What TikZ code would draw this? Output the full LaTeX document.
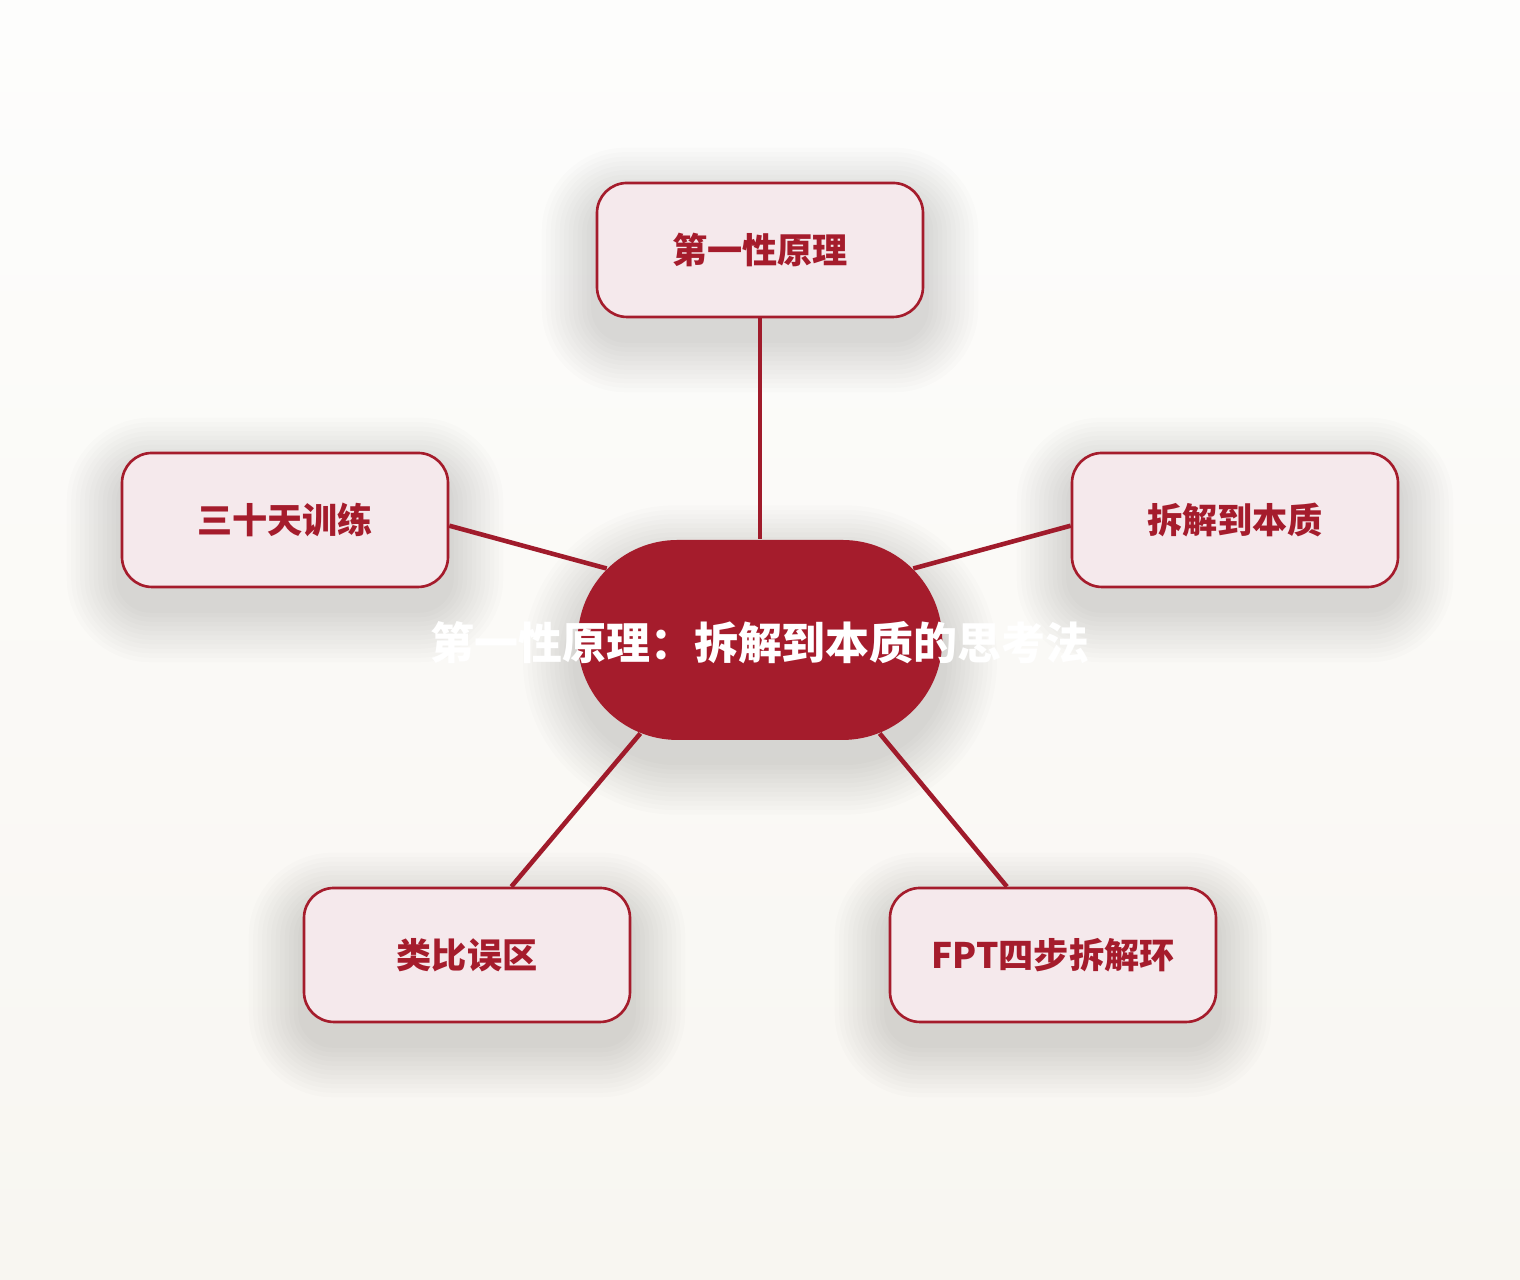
\documentclass[tikz,border=0pt]{standalone}
\usepackage{fontspec}
\newfontfamily\cjk{Noto Sans CJK SC}
\usetikzlibrary{positioning, shapes.misc, backgrounds, calc}

\definecolor{deepred}{HTML}{A51C2C}
\definecolor{linkred}{HTML}{A01B2B}
\definecolor{palepink}{HTML}{F5E9EC}
\definecolor{bgtop}{HTML}{FDFDFC}
\definecolor{bgbottom}{HTML}{F8F6F1}

\tikzset{
  topic/.style={draw=deepred, line width=0.75pt, fill=palepink, rounded corners=0.3cm,
    minimum width=3.26cm, minimum height=1.34cm, text=deepred,
    font=\cjk\bfseries\fontsize{10}{12}\selectfont},
  hub/.style={rounded rectangle, fill=deepred, minimum width=3.88cm, minimum height=2cm},
  hubtext/.style={text=white, font=\cjk\bfseries\fontsize{12.5}{15}\selectfont},
  link/.style={draw=linkred, line width=1.3pt},
  haze/.style={fill=black!85, opacity=0.011},
}

\begin{document}
\begin{tikzpicture}
\useasboundingbox (0,0) rectangle (15.2,12.8);

% centre
\node [hub] (core) at (7.6,6.4) {};
\node [hubtext] (coretitle) at ([yshift=-0.03cm]core.center) {第一性原理：拆解到本质的思考法};

% branches
\node [topic] (principle) at (7.6,10.3) {第一性原理};
\node [topic] (training) at (2.85,7.6) {三十天训练};
\node [topic] (essence) at (12.35,7.6) {拆解到本质};
\node [topic] (analogy) at (4.67,3.25) {类比误区};
\node [topic] (fptloop) at (10.53,3.25) {FPT四步拆解环};

% links
\draw [link] (principle.south) -- (core.north);
\draw [link] (training.-2.5) -- (core.155);
\draw [link] (essence.182.5) -- (core.25);
\draw [link] (analogy.57) -- (core.218);
\draw [link] (fptloop.124) -- (core.322);

% paper and soft shadows
\begin{scope}[on background layer]
\shade [top color=bgtop, bottom color=bgbottom] (0,0) rectangle (15.2,12.8);
\foreach \n in {principle, training, essence, analogy, fptloop}
  \foreach \k in {1,...,12}
    \fill [haze, rounded corners=0.3cm+\k*0.045cm]
      ($(\n.south west)+(-\k*0.045,-0.2-\k*0.045)$) rectangle ($(\n.north east)+(\k*0.045,-0.2+\k*0.045)$);
\foreach \k in {1,...,12}
  \fill [haze, rounded corners=0.99cm+\k*0.045cm]
    ($(core.west |- core.south)+(-\k*0.045,-0.2-\k*0.045)$) rectangle ($(core.east |- core.north)+(\k*0.045,-0.2+\k*0.045)$);
\end{scope}
\end{tikzpicture}
\end{document}
